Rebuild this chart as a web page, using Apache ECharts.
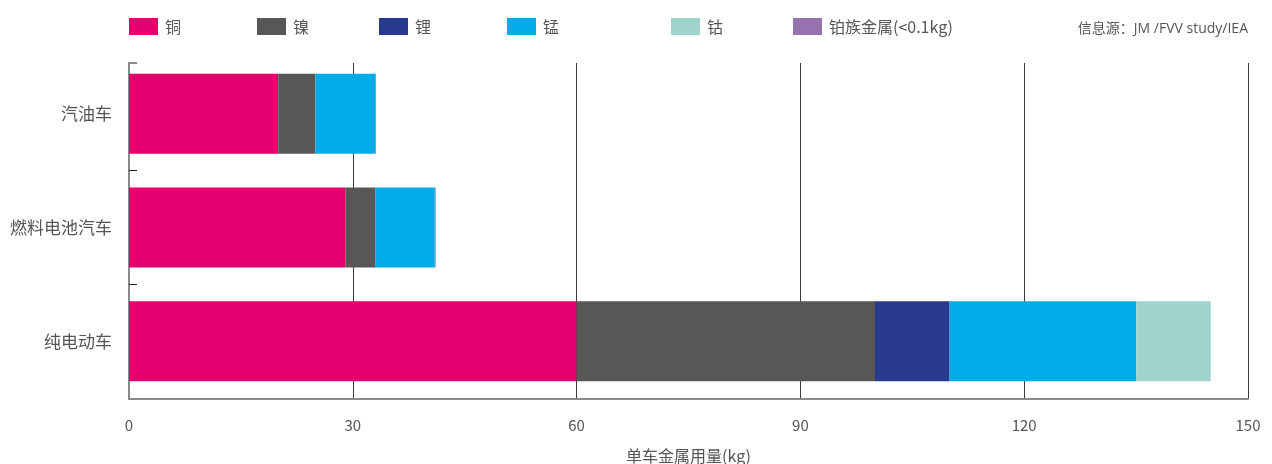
<!DOCTYPE html>
<html>
<head>
<meta charset="utf-8">
<script src="https://cdn.jsdelivr.net/npm/echarts@6/dist/echarts.min.js"></script>
<style>
html,body{margin:0;padding:0;background:#fff;}
#main{width:1272px;height:464px;}
</style>
</head>
<body>
<div id="main"></div>
<script>
const categories = ['汽油车', '燃料电池汽车', '纯电动车'];
const seriesNames = ['铜', '镍', '锂', '锰', '钴', '铂族金属(<0.1kg)'];
const copper = [20, 29, 60];
const nickel = [5, 4, 40];
const lithium = [0, 0, 10];
const manganese = [8, 8, 25];
const cobalt = [0, 0, 10];
const pgm = [0.1, 0.1, 0];
const xTicks = [0, 30, 60, 90, 120, 150];
const sourceText = '信息源：JM /FVV study/IEA';
const axisName = '单车金属用量(kg)';

const colors = ['#E4006F', '#575756', '#283A8E', '#00ACE8', '#9FD3CC', '#9672AE'];
const values = [copper, nickel, lithium, manganese, cobalt, pgm];
const legendLefts = [129, 257, 379, 507, 671, 793];
const FONT = '"Noto Sans CJK SC", "Noto Sans", sans-serif';
const FONT_SRC = '"Open Sans", "Noto Sans CJK SC", sans-serif';

const chart = echarts.init(document.getElementById('main'), null, {renderer: 'canvas'});

const legends = seriesNames.map((n, i) => ({
  data: [n],
  left: legendLefts[i],
  top: 18,
  padding: 0,
  itemWidth: 29,
  itemHeight: 17,
  itemGap: 0,
  icon: 'rect',
  selectedMode: false,
  textStyle: {fontFamily: FONT, fontSize: 16, color: '#555', padding: [0, 0, 0, 2]}
}));

const option = {
  animation: false,
  backgroundColor: '#fff',
  textStyle: {fontFamily: FONT},
  legend: legends,
  title: {
    text: sourceText,
    right: 19,
    top: 17,
    textStyle: {fontFamily: FONT_SRC, fontSize: 14, fontWeight: 'normal', color: '#555'}
  },
  grid: [
    {left: 129, right: 24, top: 57, bottom: 66, containLabel: false, outerBoundsMode: 'none'},
    {left: 129, right: 24, top: 63, bottom: 65, containLabel: false, outerBoundsMode: 'none'}
  ],
  xAxis: [
    {
      gridIndex: 0, type: 'value', min: 0, max: 150, interval: 30,
      show: false
    },
    {
      gridIndex: 1, type: 'value', min: 0, max: 150, interval: 30,
      axisLine: {show: true, lineStyle: {color: '#8a8a8a', width: 2}},
      axisTick: {show: false},
      splitLine: {show: true, lineStyle: {color: '#3a3a3a', width: 1}},
      axisLabel: {
        margin: 19, fontFamily: FONT, fontSize: 15, color: '#555',
        formatter: v => xTicks.includes(v) ? String(v) : ''
      },
      name: axisName,
      nameLocation: 'middle',
      nameGap: 49,
      nameTextStyle: {fontFamily: FONT, fontSize: 16, color: '#555'}
    }
  ],
  yAxis: [
    {
      gridIndex: 0, type: 'category', data: categories, inverse: true,
      axisLine: {show: false},
      axisTick: {show: true, inside: true, length: 8, lineStyle: {color: '#222', width: 1},
        interval: function (index) { return index > 0; }},
      axisLabel: {margin: 17, fontFamily: FONT, fontSize: 17, color: '#555'},
      splitLine: {show: false}
    },
    {
      gridIndex: 1, type: 'value', min: 0, max: 1, interval: 1,
      axisLine: {show: true, lineStyle: {color: '#8a8a8a', width: 2}},
      axisTick: {show: true, inside: true, length: 8, lineStyle: {color: '#8a8a8a', width: 2}},
      axisLabel: {show: false},
      splitLine: {show: false}
    }
  ],
  series: seriesNames.map((n, i) => ({
    name: n,
    type: 'bar',
    stack: 'total',
    xAxisIndex: 0,
    yAxisIndex: 0,
    barWidth: 80,
    itemStyle: {color: colors[i]},
    data: values[i]
  }))
};
chart.setOption(option);
</script>
</body>
</html>
